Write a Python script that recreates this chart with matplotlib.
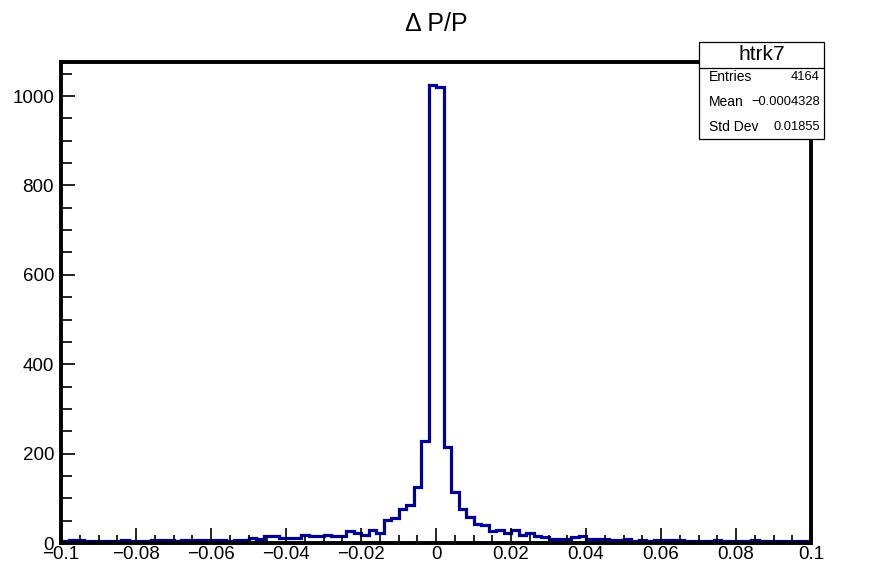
import numpy as np
import matplotlib
matplotlib.use("Agg")
import matplotlib.pyplot as plt
from matplotlib.ticker import MultipleLocator
from matplotlib.patches import Rectangle
from matplotlib.lines import Line2D

plt.rcParams['font.family'] = ['Liberation Sans', 'DejaVu Sans']

# histogram htrk7: 100 bins from -0.1 to 0.1
x_min, x_max, n_bins = -0.1, 0.1, 100
counts = [4, 6, 7, 5, 5, 5, 5, 5, 6, 5, 5, 5, 7, 7, 7, 4, 7, 7, 7, 7, 7, 7, 5, 7, 7,
          11, 9, 16, 15, 12, 12, 12, 18, 15, 15, 17, 15, 15, 26, 22, 18, 30, 23,
          51, 57, 77, 84, 125, 229, 1025, 1020,
          215, 115, 76, 59, 42, 40, 28, 30, 23, 30, 18, 22, 15,
          14, 10, 10, 10, 13, 15, 8, 8, 9,
          7, 7, 8, 5, 7, 4, 6, 7, 6, 6, 4, 4, 4, 5, 7, 5, 5, 4, 4, 6, 5, 5, 4, 4, 4, 4, 4]

hist_name = "htrk7"
stat_names = ["Entries", "Mean", "Std Dev"]
stat_values = ["4164", "\u22120.0004328", "0.01855"]

x_ticks = [-0.1, -0.08, -0.06, -0.04, -0.02, 0, 0.02, 0.04, 0.06, 0.08, 0.1]
x_labels = ["\u22120.1", "\u22120.08", "\u22120.06", "\u22120.04", "\u22120.02", "0",
            "0.02", "0.04", "0.06", "0.08", "0.1"]
y_ticks = [0, 200, 400, 600, 800, 1000]

edges = np.linspace(x_min, x_max, n_bins + 1)

fig = plt.figure(figsize=(8.83, 5.65), dpi=100)
ax = fig.add_axes([0.0691, 0.0389, 0.8494, 0.8514])

ax.stairs(counts, edges, color='#000099', linewidth=2.3)

ax.set_xlim(x_min, x_max)
ax.set_ylim(0, max(counts) * 1.05)

ax.set_xticks(x_ticks)
ax.set_xticklabels(x_labels)
ax.set_yticks(y_ticks)
ax.xaxis.set_minor_locator(MultipleLocator(0.005))
ax.yaxis.set_minor_locator(MultipleLocator(50))
ax.tick_params(axis='x', which='major', direction='in', length=11, width=1.2,
               labelsize=13.5, pad=2)
ax.tick_params(axis='x', which='minor', direction='in', length=5.5, width=1.2)
ax.tick_params(axis='y', which='major', direction='in', length=10, width=1.2,
               labelsize=13.5, pad=5)
ax.tick_params(axis='y', which='minor', direction='in', length=8, width=1.2)

for s in ax.spines.values():
    s.set_linewidth(2.8)

fig.text(0.494, 0.958, "\u0394 P/P", ha='center', va='center', fontsize=18)

# stats box
bx0, by0, bx1, by1 = 0.7916, 0.754, 0.9332, 0.9257
fig.patches.append(Rectangle((bx0, by0), bx1 - bx0, by1 - by0, transform=fig.transFigure,
                             facecolor='white', edgecolor='black', linewidth=0.9, zorder=5))
fig.lines.append(Line2D([bx0, bx1], [0.8796, 0.8796], transform=fig.transFigure,
                        color='black', linewidth=0.9, zorder=6))
fig.text((bx0 + bx1) / 2, 0.9044, hist_name, ha='center', va='center', fontsize=15, zorder=7)
row_y = [0.8637, 0.8195, 0.7752]
for name, val, yy in zip(stat_names, stat_values, row_y):
    fig.text(0.803, yy, name, ha='left', va='center', fontsize=10, zorder=7)
    fig.text(0.9287, yy, val, ha='right', va='center', fontsize=9.3, zorder=7)

fig.savefig("out.png", dpi=100)
